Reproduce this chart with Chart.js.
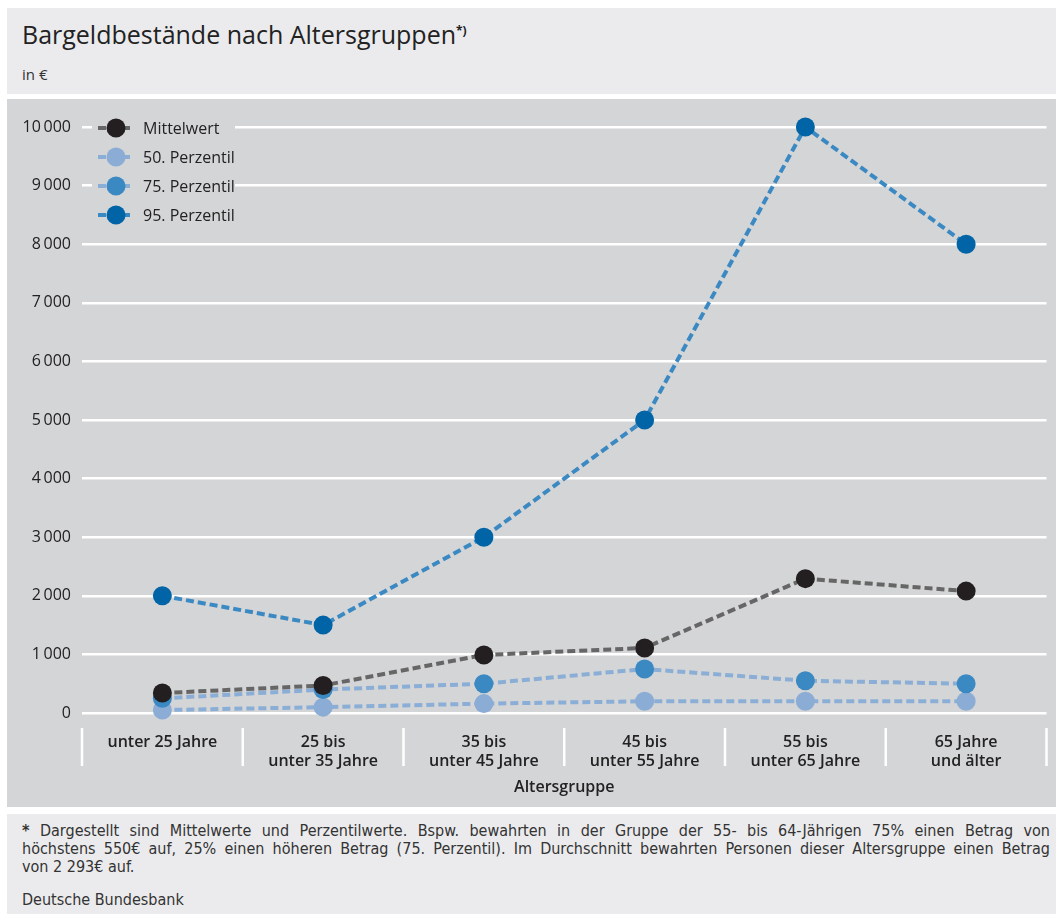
<!DOCTYPE html>
<html>
<head>
<meta charset="utf-8">
<script src="https://cdn.jsdelivr.net/npm/chart.js@4"></script>
<style>
  body { margin: 0; background: #fff; font-family: "Open Sans", sans-serif; color: #222; }
  #head { position: absolute; left: 7px; top: 8px; width: 1049px; height: 86px; background: #ebebed; }
  #head h1 { position: absolute; left: 15px; top: 9px; margin: 0; font-size: 25px; font-weight: 400; color: #222; }
  #head h1 sup { font-size: 12px; font-weight: 700; }
  #head .unit { position: absolute; left: 15px; top: 56px; font-size: 15px; color: #333; }
  #box { position: absolute; left: 7px; top: 99px; width: 1049px; height: 708px; background: #d4d5d7; }
  #foot { position: absolute; left: 7px; top: 814px; width: 1049px; height: 100px; background: #ebebed;
          font-family: "DejaVu Sans Condensed", "Liberation Sans Narrow", "Open Sans", sans-serif; font-size: 16px; color: #333; }
  #foot div { position: absolute; left: 15px; width: 1028px; line-height: 18px; white-space: nowrap; }
  #foot .j { text-align: justify; text-align-last: justify; white-space: normal; }
</style>
</head>
<body>
<div id="head">
  <h1>Bargeldbestände nach Altersgruppen<sup>*)</sup></h1>
  <div class="unit">in €</div>
</div>
<div id="box"><canvas id="chart" width="1049" height="708"></canvas></div>
<div id="foot">
  <div class="j" style="top:8px"><b>*</b> Dargestellt sind Mittelwerte und Perzentilwerte. Bspw. bewahrten in der Gruppe der 55- bis 64-Jährigen 75% einen Betrag von</div>
  <div class="j" style="top:26px">höchstens 550€ auf, 25% einen höheren Betrag (75. Perzentil). Im Durchschnitt bewahrten Personen dieser Altersgruppe einen Betrag</div>
  <div style="top:44px">von 2 293€ auf.</div>
  <div style="top:77px">Deutsche Bundesbank</div>
</div>
<script>
// Altersgruppen
const groups = [
    ['unter 25 Jahre'],
    ['25 bis', 'unter 35 Jahre'],
    ['35 bis', 'unter 45 Jahre'],
    ['45 bis', 'unter 55 Jahre'],
    ['55 bis', 'unter 65 Jahre'],
    ['65 Jahre', 'und älter']
];
const mittelwert = [340, 470, 990, 1110, 2293, 2080];
const perz50 = [50, 100, 160, 200, 200, 200];
const perz75 = [250, 400, 500, 750, 550, 500];
const perz95 = [2000, 1500, 3000, 5000, 10000, 8000];
const yTicks = [0, 1000, 2000, 3000, 4000, 5000, 6000, 7000, 8000, 9000, 10000];

function fmt(v) {
    return String(v).replace(/\B(?=(\d{3})+(?!\d))/g, '\u2009');
}

function series(label, values, lineColor, dotColor, order) {
    return {
        label: label,
        data: values,
        borderColor: lineColor,
        backgroundColor: dotColor,
        pointBackgroundColor: dotColor,
        pointBorderWidth: 0,
        pointRadius: 9.5,
        borderWidth: 4,
        borderDash: [8, 4],
        order: order,
        clip: false
    };
}

// legend with dashed line + dot, like the original
const lineLegend = {
    id: 'lineLegend',
    afterDatasetsDraw(chart) {
        const ctx = chart.ctx;
        const a = chart.chartArea;
        const items = [0, 1, 2, 3].map(i => chart.data.datasets[i]);
        ctx.save();
        ctx.fillStyle = '#d4d5d7';
        ctx.fillRect(a.left + 10, a.top - 12, 143, 4 * 29 + 10);
        items.forEach((ds, i) => {
            const y = a.top + 1 + i * 29;
            ctx.strokeStyle = ds.borderColor;
            ctx.lineWidth = 4;
            ctx.setLineDash([8, 4]);
            ctx.beginPath();
            ctx.moveTo(a.left + 16, y);
            ctx.lineTo(a.left + 51, y);
            ctx.stroke();
            ctx.setLineDash([]);
            ctx.fillStyle = ds.pointBackgroundColor;
            ctx.beginPath();
            ctx.arc(a.left + 34, y, 9.5, 0, Math.PI * 2);
            ctx.fill();
            ctx.fillStyle = '#222';
            ctx.font = '500 16px "Open Sans"';
            ctx.textBaseline = 'middle';
            ctx.fillText(ds.label, a.left + 61, y + 1);
        });
        ctx.restore();
    }
};

// white separators between the age groups below the axis
const separators = {
    id: 'separators',
    afterDraw(chart) {
        const ctx = chart.ctx;
        const x = chart.scales.x;
        const a = chart.chartArea;
        const n = groups.length;
        const xs = [a.left];
        for (let i = 1; i < n; i++) {
            xs.push((x.getPixelForValue(i - 1) + x.getPixelForValue(i)) / 2);
        }
        xs.push(a.right);
        ctx.save();
        ctx.strokeStyle = '#ffffff';
        ctx.lineWidth = 2.5;
        xs.forEach(px => {
            ctx.beginPath();
            ctx.moveTo(px, a.bottom + 15);
            ctx.lineTo(px, a.bottom + 53);
            ctx.stroke();
        });
        ctx.restore();
    }
};

new Chart(document.getElementById('chart').getContext('2d'), {
    type: 'line',
    data: {
        labels: groups,
        datasets: [
            series('Mittelwert', mittelwert, '#666666', '#231f20', 0),
            series('50. Perzentil', perz50, '#8aaed6', '#8badd5', 2),
            series('75. Perzentil', perz75, '#8aaed6', '#3b89c3', 1),
            series('95. Perzentil', perz95, '#3b89c3', '#0064a6', 3)
        ]
    },
    options: {
        responsive: false,
        animation: false,
        layout: { padding: { top: 28, right: 5, bottom: 0, left: 0 } },
        plugins: { legend: { display: false }, tooltip: { enabled: false } },
        scales: {
            x: {
                offset: true,
                grid: { display: false },
                border: { display: false },
                ticks: {
                    padding: 12,
                    color: '#222',
                    font: { family: 'Open Sans', size: 16, weight: '600', lineHeight: 1.2 }
                },
                title: {
                    display: true,
                    text: 'Altersgruppe',
                    color: '#222',
                    font: { family: 'Open Sans', size: 16, weight: '600', lineHeight: 1.2 },
                    padding: { top: 0, bottom: 10 }
                },
                afterFit(scale) { scale.height = 94; }
            },
            y: {
                min: 0,
                max: 10000,
                afterBuildTicks(scale) { scale.ticks = yTicks.map(v => ({ value: v })); },
                grid: { color: '#ffffff', lineWidth: 2.5, drawTicks: false },
                border: { display: false },
                ticks: {
                    padding: 11,
                    color: '#222',
                    font: { family: 'Open Sans', size: 16 },
                    callback: v => fmt(v)
                },
                afterFit(scale) { scale.width = 75; }
            }
        }
    },
    plugins: [lineLegend, separators]
});
</script>
</body>
</html>
